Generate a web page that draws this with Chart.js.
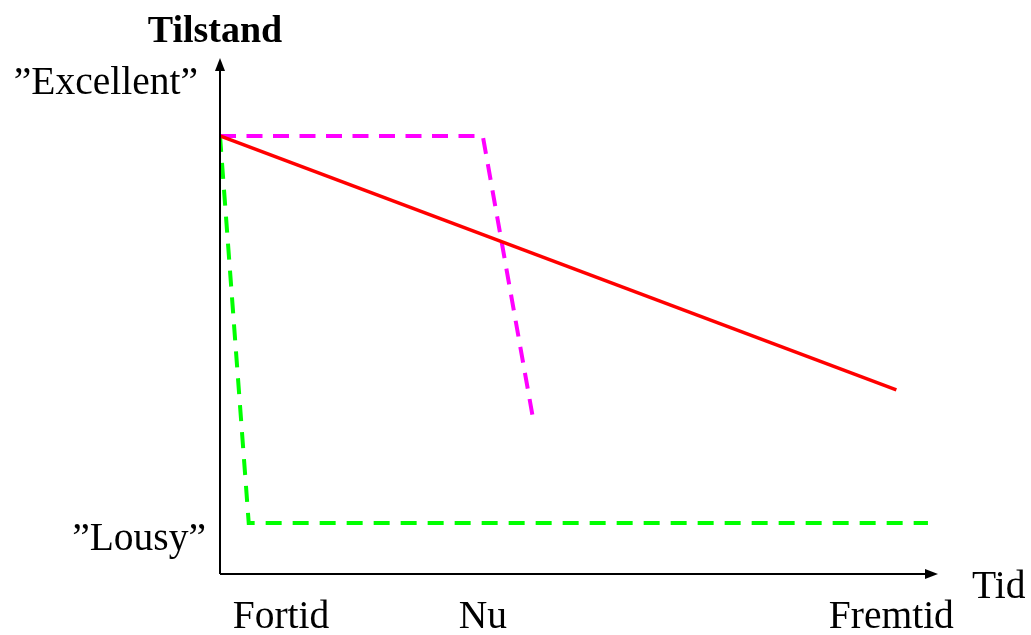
<!DOCTYPE html>
<html>
<head>
<meta charset="utf-8">
<script src="https://cdn.jsdelivr.net/npm/chart.js@4"></script>
<style>
html,body{margin:0;padding:0;background:#fff;}
#wrap{width:1031px;height:635px;}
</style>
</head>
<body>
<div id="wrap"><canvas id="c" width="1031" height="635"></canvas></div>
<script>
// Data (scale 0..100 on both axes)
const redX = [0, 94.2];
const redY = [84.9, 35.7];
const magentaX = [0, 36.6, 43.5];
const magentaY = [84.9, 84.9, 30.9];
const greenX = [0, 4.0, 98.6];
const greenY = [84.9, 9.9, 9.9];
const tickLabels = ["Fortid", "Nu", "Fremtid"];
const tickValues = [8.5, 36.6, 93.5];
const yLabels = ["”Excellent”", "”Lousy”"];
const yLabelValues = [95.5, 7.2];
const xTitle = "Tid";
const yTitle = "Tilstand";

const pts = (xs, ys) => xs.map((x, i) => ({x: x, y: ys[i]}));

const decor = {
  id: 'decor',
  afterDraw(chart) {
    const ctx = chart.ctx;
    const xs = chart.scales.x, ys = chart.scales.y;
    const x0 = xs.left, y0 = ys.bottom, x1 = xs.right, y1 = ys.top;
    ctx.save();
    ctx.strokeStyle = '#000';
    ctx.fillStyle = '#000';
    ctx.lineWidth = 2;
    ctx.beginPath();
    ctx.moveTo(x0, y0); ctx.lineTo(x1 - 8, y0);
    ctx.moveTo(x0, y0); ctx.lineTo(x0, y1 + 8);
    ctx.stroke();
    // arrowheads
    ctx.beginPath();
    ctx.moveTo(x1, y0); ctx.lineTo(x1 - 13, y0 - 5); ctx.lineTo(x1 - 13, y0 + 5); ctx.closePath(); ctx.fill();
    ctx.beginPath();
    ctx.moveTo(x0, y1); ctx.lineTo(x0 - 5, y1 + 13); ctx.lineTo(x0 + 5, y1 + 13); ctx.closePath(); ctx.fill();
    // texts
    ctx.font = 'bold 38px "Liberation Serif", serif';
    ctx.textAlign = 'center';
    ctx.textBaseline = 'alphabetic';
    ctx.fillText(yTitle, x0 - 5, 42);
    ctx.font = '39.5px "Liberation Serif", serif';
    ctx.textAlign = 'right';
    yLabels.forEach((t, i) => ctx.fillText(t, x0 - 22 + (i === 1 ? 8 : 0), ys.getPixelForValue(yLabelValues[i]) + 13));
    ctx.textAlign = 'center';
    tickLabels.forEach((t, i) => ctx.fillText(t, xs.getPixelForValue(tickValues[i]), y0 + 54));
    ctx.textAlign = 'left';
    ctx.fillText(xTitle, x1 + 34, y0 + 24);
    ctx.restore();
  }
};

new Chart(document.getElementById('c'), {
  type: 'scatter',
  data: {
    datasets: [
      {data: pts(redX, redY), showLine: true, borderColor: '#ff0000', borderWidth: 3.5, pointRadius: 0, fill: false},
      {data: pts(magentaX, magentaY), showLine: true, borderColor: '#ff00ff', borderWidth: 4, borderDash: [16, 10.5], pointRadius: 0, fill: false},
      {data: pts(greenX, greenY), showLine: true, borderColor: '#00ff00', borderWidth: 4, borderDash: [16, 11], pointRadius: 0, fill: false}
    ]
  },
  options: {
    responsive: false,
    animation: false,
    layout: {padding: {left: 220, right: 93, top: 58, bottom: 61}},
    plugins: {legend: {display: false}, tooltip: {enabled: false}},
    scales: {
      x: {type: 'linear', min: 0, max: 100, display: false},
      y: {type: 'linear', min: 0, max: 100, display: false}
    }
  },
  plugins: [decor]
});
</script>
</body>
</html>
